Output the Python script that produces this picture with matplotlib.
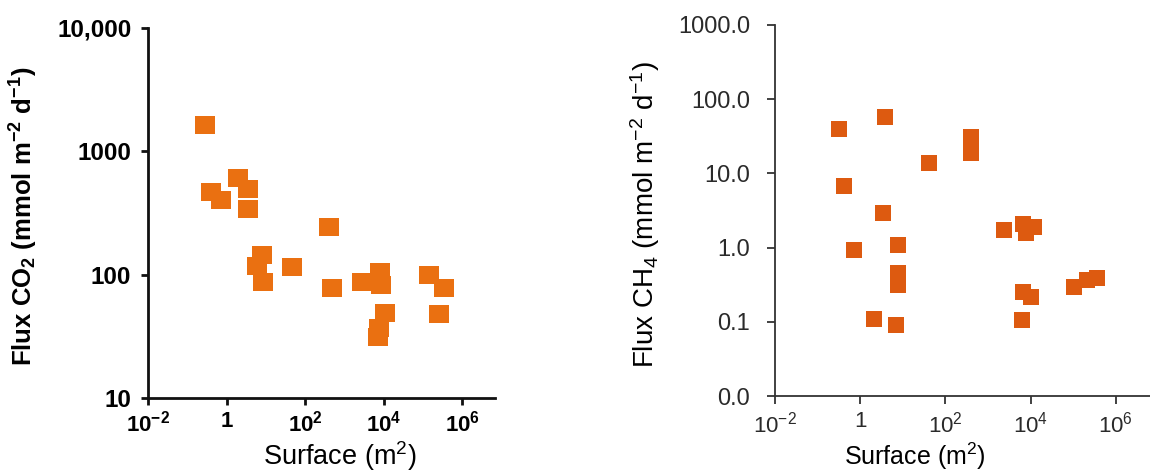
import matplotlib
matplotlib.use('Agg')
import matplotlib.pyplot as plt
from matplotlib.path import Path

plt.rcParams['font.family'] = ['Liberation Sans', 'DejaVu Sans']
plt.rcParams['mathtext.fontset'] = 'custom'
plt.rcParams['mathtext.rm'] = 'Liberation Sans'
plt.rcParams['mathtext.it'] = 'Liberation Sans'
plt.rcParams['mathtext.bf'] = 'Liberation Sans:bold'

# CO2 panel
co2_surface = [0.29, 0.41, 0.73, 1.94, 3.6, 3.5, 7.9, 5.8, 8.2, 46, 410, 480,
               2750, 7940, 8500, 11000, 7400, 7000, 138000, 347000, 247000]
co2_flux = [1620, 468, 400, 608, 498, 343, 145, 117, 87, 115, 243, 78,
            87, 105, 83, 49, 37, 31, 100, 78.5, 48]

# CH4 panel
ch4_surface = [0.31, 3.8, 398, 400, 42, 0.41, 3.5, 0.70, 7.9, 7.7, 7.7, 2.07, 6.9,
               2350, 6450, 11700, 7800, 6450, 10000, 6300, 105000, 209000, 355000]
ch4_flux = [39.6, 58, 31, 18.7, 13.7, 6.8, 2.95, 0.93, 1.07, 0.45, 0.31, 0.108, 0.091,
            1.73, 2.1, 1.9, 1.56, 0.255, 0.214, 0.106, 0.297, 0.366, 0.39]

x_ticks = [1e-2, 1, 1e2, 1e4, 1e6]
co2_yticks = [10, 100, 1000, 10000]
co2_ylabels = ['10', '100', '1000', '10,000']
ch4_yticks = [0.01, 0.1, 1, 10, 100, 1000]
ch4_ylabels = ['0.0', '0.1', '1.0', '10.0', '100.0', '1000.0']

rect_left = Path([(-1, -0.85), (1, -0.85), (1, 0.85), (-1, 0.85), (-1, -0.85)])
rect_right = Path([(-1, -0.95), (1, -0.95), (1, 0.95), (-1, 0.95), (-1, -0.95)])

fig = plt.figure(figsize=(11.5, 4.73), dpi=100)

# ---- left panel ----
ax1 = fig.add_axes([148 / 1150, 1 - 398 / 473, 347 / 1150, 370 / 473])
ax1.plot(co2_surface, co2_flux, linestyle='none', marker=rect_left,
         markersize=15, color='#EA7011', markeredgewidth=0)
ax1.set_xscale('log')
ax1.set_yscale('log')
ax1.set_xlim(1e-2, 10 ** 6.83)
ax1.set_ylim(10, 10000)
ax1.set_xticks(x_ticks, [r'$\mathbf{10^{-2}}$', r'$\mathbf{1}$', r'$\mathbf{10^{2}}$',
                         r'$\mathbf{10^{4}}$', r'$\mathbf{10^{6}}$'])
ax1.set_yticks(co2_yticks, co2_ylabels)
ax1.minorticks_off()
for s in ['top', 'right']:
    ax1.spines[s].set_visible(False)
for s in ['left', 'bottom']:
    ax1.spines[s].set_linewidth(2)
    ax1.spines[s].set_color('#111111')
ax1.tick_params(width=2, length=5, color='#111111')
ax1.tick_params(axis='x', labelsize=16, pad=4)
ax1.tick_params(axis='y', labelsize=17.5, pad=7)
for lab in ax1.get_yticklabels():
    lab.set_fontweight('bold')
ax1.set_xlabel('Surface (m$^2$)', fontsize=19.5, va='center')
ax1.xaxis.set_label_coords(0.553, -0.158)
ax1.set_ylabel(r'Flux CO$_\mathbf{2}$ (mmol m$^\mathbf{-2}$ d$^\mathbf{-1}$)',
               fontsize=18.5, fontweight='bold')
ax1.yaxis.set_label_coords(-0.311, 0.49)

# ---- right panel ----
ax2 = fig.add_axes([775 / 1150, 1 - 396 / 473, 375 / 1150, 371 / 473])
ax2.plot(ch4_surface, ch4_flux, linestyle='none', marker=rect_right,
         markersize=12, color='#DD5A10', markeredgewidth=0)
ax2.set_xscale('log')
ax2.set_yscale('log')
ax2.set_xlim(1e-2, 10 ** 6.8)
ax2.set_ylim(0.01, 1000)
ax2.set_xticks(x_ticks, [r'$10^{-2}$', '1', r'$10^{2}$', r'$10^{4}$', r'$10^{6}$'])
ax2.set_yticks(ch4_yticks, ch4_ylabels)
ax2.minorticks_off()
for s in ['top', 'right']:
    ax2.spines[s].set_visible(False)
for s in ['left', 'bottom']:
    ax2.spines[s].set_linewidth(1.3)
    ax2.spines[s].set_color('#333333')
ax2.tick_params(width=1.3, length=6, color='#333333', labelcolor='#2a2a2a')
ax2.tick_params(axis='x', labelsize=16, pad=5)
ax2.tick_params(axis='y', labelsize=17, pad=12)
ax2.set_xlabel('Surface (m$^2$)', fontsize=18, va='center')
ax2.xaxis.set_label_coords(0.373, -0.163)
ax2.set_ylabel(r'Flux CH$_4$ (mmol m$^{-2}$ d$^{-1}$)', fontsize=20)
ax2.yaxis.set_label_coords(-0.301, 0.488)

fig.savefig('out.png', dpi=100)
